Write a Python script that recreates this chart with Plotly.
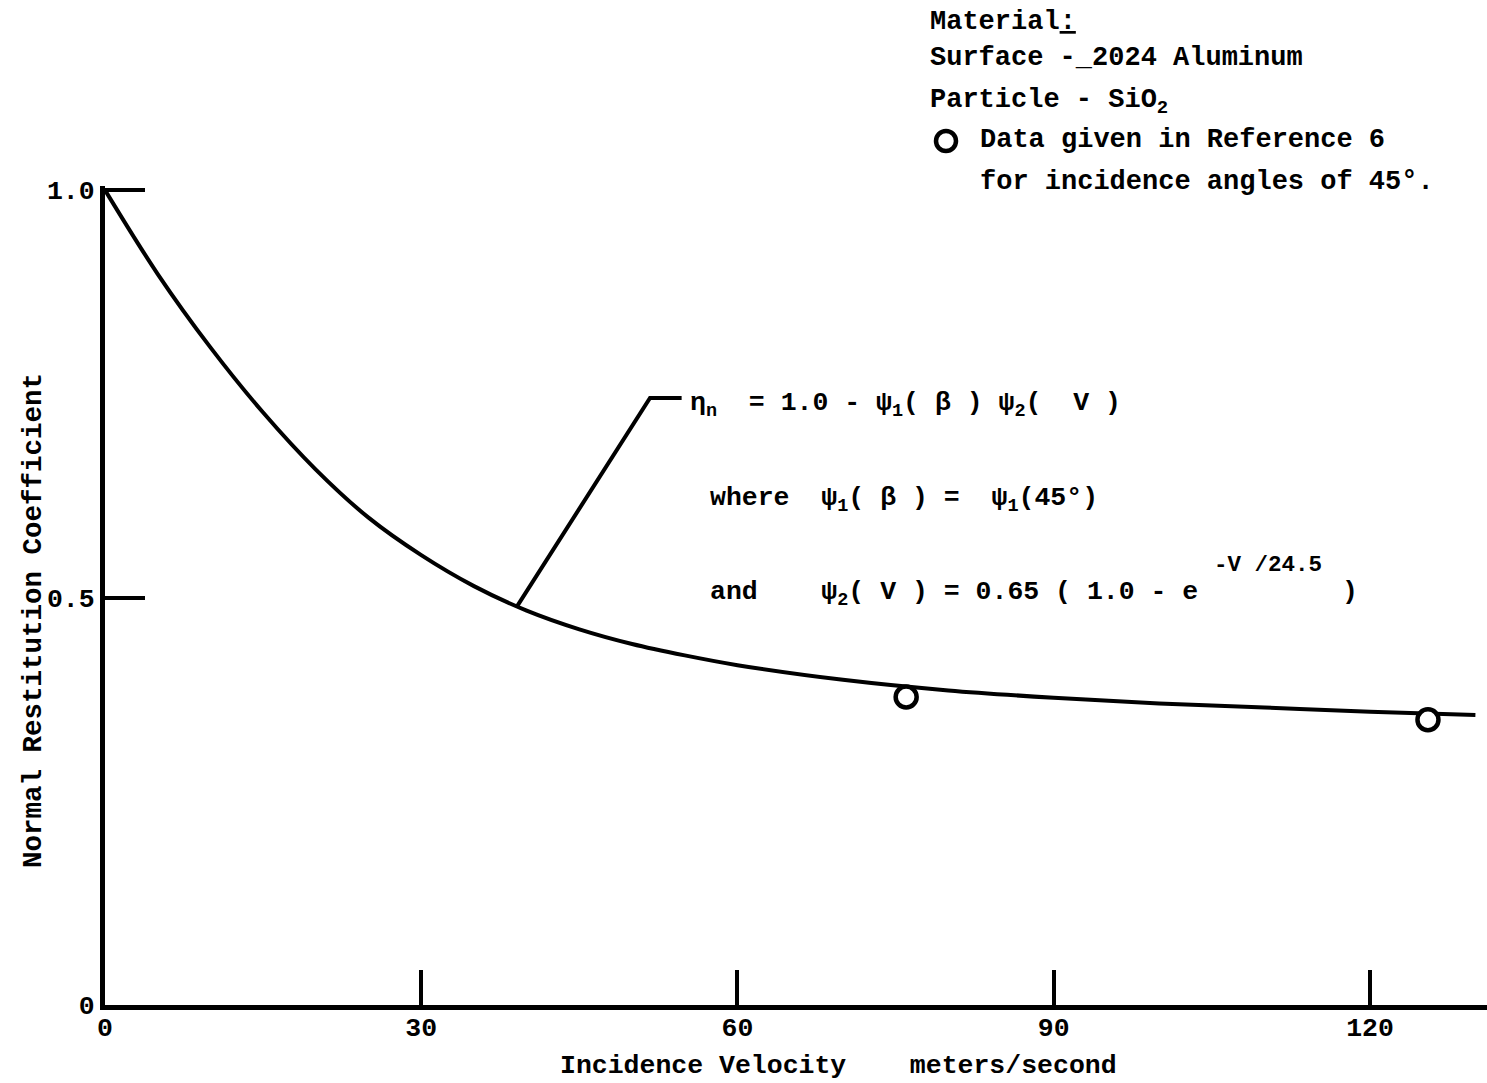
import numpy as np
import plotly.graph_objects as go

# Normal restitution coefficient vs. incidence velocity (2024 Al surface, SiO2 particle)
velocity = [0, 5, 10, 15, 20, 25, 30, 35, 40, 45, 50, 55, 60, 70, 80, 90, 100, 110, 120, 130]
eta_n = [1.0, 0.897, 0.807, 0.727, 0.657, 0.598, 0.552, 0.514, 0.484, 0.461, 0.443, 0.429,
         0.417, 0.399, 0.386, 0.377, 0.370, 0.365, 0.360, 0.356]

# Measured points (Reference 6, 45 degree incidence)
ref_velocity = [76, 125.5]
ref_eta = [0.378, 0.350]

x_ticks = [0, 30, 60, 90, 120]
y_ticks = [0, 0.5, 1.0]
y_tick_text = ["0", "0.5", "1.0"]

W, H = 1487, 1083
L, R, T, B = 105, 0, 186, 78
X_MAX = 131.1
Y_MAX = 1.005

FONT = "Liberation Mono, Courier New, monospace"
FS = 26.5
INK = "black"


def to_paper(px, py):
    """Convert a page position in pixels to paper coordinates."""
    pw, ph = W - L - R, H - T - B
    return (px - L) / pw, (H - B - py) / ph


def nb(s):
    return s.replace(" ", "\u00a0")


fig = go.Figure()

fig.add_trace(go.Scatter(
    x=velocity, y=eta_n, mode="lines",
    line=dict(color=INK, width=4, shape="spline", smoothing=1.0),
    showlegend=False, hoverinfo="skip",
))

fig.add_trace(go.Scatter(
    x=ref_velocity, y=ref_eta, mode="markers",
    marker=dict(symbol="circle", size=21, color="white", line=dict(color=INK, width=4.5)),
    showlegend=False,
))

# Leader from the curve to the equation block
foot_v = 39.1
foot_eta = float(np.interp(foot_v, velocity, eta_n))
fig.add_shape(type="path", xref="x", yref="y",
              path=f"M {foot_v},{foot_eta} L 51.7,0.745 L 54.7,0.745",
              line=dict(color=INK, width=4))

annotations = []


def note(text, px, py, xanchor="left", size=FS, angle=0):
    x, y = to_paper(px, py)
    annotations.append(dict(
        text=text, x=x, y=y, xref="paper", yref="paper",
        xanchor=xanchor, yanchor="middle", showarrow=False, textangle=angle,
        font=dict(family=FONT, size=size, color=INK, weight="bold"),
    ))


# Material block
note("Material<u>:</u>", 928, 22, size=27)
note(nb("Surface -_2024 Aluminum"), 928, 58, size=27)
note(nb("Particle - SiO<sub>2</sub>"), 928, 102, size=27)
note(nb("Data given in Reference 6"), 978, 140, size=27)
note(nb("for incidence angles of 45°."), 978, 182, size=27)

cx, cy = to_paper(946, 141)
fig.add_shape(type="circle", xref="paper", yref="paper",
              xsizemode="pixel", ysizemode="pixel", xanchor=cx, yanchor=cy,
              x0=-10, x1=10, y0=-10, y1=10,
              line=dict(color=INK, width=4.5), fillcolor="white")

# Equation block
note(nb("η<sub>n</sub>  = 1.0 - ψ<sub>1</sub>( β ) ψ<sub>2</sub>(  V )"), 688, 405)
note(nb("where  ψ<sub>1</sub>( β ) =  ψ<sub>1</sub>(45°)"), 708, 500)
note(nb("and    ψ<sub>2</sub>( V ) = 0.65 ( 1.0 - e"), 708, 594)
note(nb("-V /24.5"), 1212, 565, size=22.5)
note(")", 1340, 592)

# Axis titles
note(nb("Incidence Velocity    meters/second"), 838, 1066, xanchor="center")
note(nb("Normal Restitution Coefficient"), 33, 621, xanchor="center", size=27.5, angle=-90)

axis_common = dict(
    showline=True, linecolor=INK, linewidth=5, mirror=False,
    showgrid=False, zeroline=False,
    ticks="inside", tickcolor=INK, tickwidth=4,
    tickfont=dict(family=FONT, size=FS, color=INK, weight="bold"),
)

fig.update_layout(
    width=W, height=H,
    margin=dict(l=L, r=R, t=T, b=B, pad=0),
    paper_bgcolor="white", plot_bgcolor="white",
    xaxis=dict(range=[0, X_MAX], tickvals=x_ticks, ticklen=35,
               ticklabelstandoff=-6, **axis_common),
    yaxis=dict(range=[0, Y_MAX], tickvals=y_ticks, ticktext=y_tick_text, ticklen=40,
               **axis_common),
    annotations=annotations,
    showlegend=False,
)

fig.write_html("out.html")
